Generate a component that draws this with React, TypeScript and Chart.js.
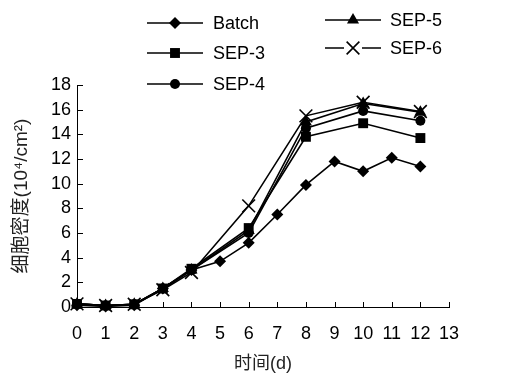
import React, { useEffect, useRef } from 'react';
import { Chart, registerables } from 'chart.js';

Chart.register(...registerables);

// ---- data ----
const batchDays = [0, 1, 2, 3, 4, 5, 6, 7, 8, 9, 10, 11, 12];
const batchValues = [0.15, 0.05, 0.15, 1.5, 3.0, 3.7, 5.2, 7.5, 9.9, 11.8, 11.0, 12.1, 11.4];

const sepDays = [0, 1, 2, 3, 4, 6, 8, 10, 12];
const sep3Values = [0.25, 0.12, 0.22, 1.5, 3.1, 6.4, 13.8, 14.9, 13.7];
const sep4Values = [0.25, 0.12, 0.22, 1.5, 3.0, 6.0, 14.5, 15.9, 15.1];
const sep5Values = [0.25, 0.12, 0.22, 1.5, 3.0, 6.2, 15.0, 16.5, 15.8];
const sep6Values = [0.25, 0.12, 0.22, 1.4, 2.8, 8.2, 15.5, 16.6, 15.85];

const seriesLabels = ['Batch', 'SEP-3', 'SEP-4', 'SEP-5', 'SEP-6'];
const xTitle = '时间(d)';
const yTitle = '细胞密度(10⁴/cm²)';
const xMin = 0;
const xMax = 13;
const yMin = 0;
const yMax = 18;
const yStep = 2;

const FONT = "'Liberation Sans', Arial, 'Noto Sans CJK SC', sans-serif";

const pts = (xs: number[], ys: number[]) => xs.map((x, i) => ({ x, y: ys[i] }));

type MarkerStyle = 'rectRot' | 'rect' | 'circle' | 'triangle' | 'crossRot';
const markerStyles: MarkerStyle[] = ['rectRot', 'rect', 'circle', 'triangle', 'crossRot'];
const markerRadius = [6, 7, 5, 7, 9];

function drawMarker(ctx: CanvasRenderingContext2D, style: MarkerStyle, x: number, y: number, r: number) {
  ctx.beginPath();
  if (style === 'rectRot') {
    ctx.moveTo(x, y - r);
    ctx.lineTo(x + r, y);
    ctx.lineTo(x, y + r);
    ctx.lineTo(x - r, y);
    ctx.closePath();
    ctx.fill();
  } else if (style === 'rect') {
    const s = r * Math.SQRT1_2;
    ctx.rect(x - s, y - s, 2 * s, 2 * s);
    ctx.fill();
  } else if (style === 'circle') {
    ctx.arc(x, y, r, 0, Math.PI * 2);
    ctx.fill();
  } else if (style === 'triangle') {
    ctx.moveTo(x, y - r);
    ctx.lineTo(x + r * 0.866, y + r * 0.5);
    ctx.lineTo(x - r * 0.866, y + r * 0.5);
    ctx.closePath();
    ctx.fill();
  } else {
    const o = r * Math.SQRT1_2;
    ctx.moveTo(x - o, y - o);
    ctx.lineTo(x + o, y + o);
    ctx.moveTo(x + o, y - o);
    ctx.lineTo(x - o, y + o);
    ctx.stroke();
  }
}

// legend positions (layout only)
const legendPos = [
  { x1: 147, x2: 203, tx: 213, y: 23 },
  { x1: 147, x2: 203, tx: 213, y: 53 },
  { x1: 147, x2: 203, tx: 213, y: 84 },
  { x1: 325, x2: 381, tx: 390, y: 20 },
  { x1: 325, x2: 381, tx: 390, y: 48 },
];

const customPlugin = {
  id: 'custom',
  afterDraw(chart: any) {
    const ctx: CanvasRenderingContext2D = chart.ctx;
    const xs = chart.scales.x;
    const ys = chart.scales.y;
    ctx.save();
    ctx.strokeStyle = '#000';
    ctx.fillStyle = '#000';
    ctx.lineWidth = 1;
    // inward tick marks
    ctx.beginPath();
    for (let v = xMin + 1; v <= xMax; v++) {
      const px = Math.round(xs.getPixelForValue(v)) + 0.5;
      ctx.moveTo(px, ys.bottom);
      ctx.lineTo(px, ys.bottom - 5);
    }
    for (let v = yMin + yStep; v <= yMax; v += yStep) {
      const py = Math.round(ys.getPixelForValue(v)) + 0.5;
      ctx.moveTo(xs.left, py);
      ctx.lineTo(xs.left + 6, py);
    }
    ctx.stroke();

    // legend
    ctx.font = `18px ${FONT}`;
    ctx.textBaseline = 'middle';
    ctx.textAlign = 'left';
    seriesLabels.forEach((label, i) => {
      const p = legendPos[i];
      const st = markerStyles[i];
      const mx = (p.x1 + p.x2) / 2;
      ctx.lineWidth = 1.6;
      ctx.beginPath();
      if (st === 'crossRot') {
        ctx.moveTo(p.x1, p.y);
        ctx.lineTo(mx - 9, p.y);
        ctx.moveTo(mx + 9, p.y);
        ctx.lineTo(p.x2, p.y);
      } else {
        ctx.moveTo(p.x1, p.y);
        ctx.lineTo(p.x2, p.y);
      }
      ctx.stroke();
      drawMarker(ctx, st, mx, p.y, markerRadius[i]);
      ctx.fillText(label, p.tx, p.y + 1);
    });
    ctx.restore();
  },
};

export default function App() {
  const ref = useRef<HTMLCanvasElement | null>(null);
  useEffect(() => {
    document.body.style.margin = '0';
    const canvas = ref.current;
    if (!canvas) return;
    const seriesData = [
      pts(batchDays, batchValues),
      pts(sepDays, sep3Values),
      pts(sepDays, sep4Values),
      pts(sepDays, sep5Values),
      pts(sepDays, sep6Values),
    ];
    const chart = new Chart(canvas, {
      type: 'line',
      data: {
        datasets: seriesLabels.map((label, i) => ({
          label,
          data: seriesData[i],
          borderColor: '#000',
          backgroundColor: '#000',
          borderWidth: 1.6,
          pointStyle: markerStyles[i],
          pointRadius: markerRadius[i],
          pointBorderWidth: markerStyles[i] === 'crossRot' ? 1.6 : 0,
          pointBackgroundColor: '#000',
          pointBorderColor: '#000',
          tension: 0,
          clip: false as any,
        })),
      },
      options: {
        animation: false,
        responsive: false,
        devicePixelRatio: 1,
        layout: { padding: { top: 85, right: 58, left: 0, bottom: 0 } },
        plugins: {
          legend: { display: false },
          tooltip: { enabled: false },
        },
        scales: {
          x: {
            type: 'linear',
            min: xMin,
            max: xMax,
            ticks: {
              stepSize: 1,
              autoSkip: false,
              maxRotation: 0,
              color: '#000',
              padding: 16,
              font: { size: 18, family: FONT },
            },
            grid: { display: false, drawTicks: false },
            border: { display: true, color: '#000', width: 1 },
            title: {
              display: true,
              text: xTitle,
              color: '#222',
              font: { size: 18, family: FONT },
              padding: { top: 0, bottom: 2 },
            },
            afterFit: (s: any) => {
              s.height = 70;
            },
          },
          y: {
            type: 'linear',
            min: yMin,
            max: yMax,
            ticks: {
              stepSize: yStep,
              color: '#000',
              padding: 6,
              font: { size: 18, family: FONT },
            },
            grid: { display: false, drawTicks: false },
            border: { display: true, color: '#000', width: 1 },
            title: {
              display: true,
              text: yTitle,
              color: '#222',
              font: { size: 19, family: FONT },
              padding: { top: 10, bottom: 0 },
            },
            afterFit: (s: any) => {
              s.width = 77;
            },
          },
        },
      },
      plugins: [customPlugin],
    });
    return () => chart.destroy();
  }, []);
  return (
    <div style={{ width: 507, height: 377 }}>
      <canvas ref={ref} width={507} height={377} />
    </div>
  );
}
